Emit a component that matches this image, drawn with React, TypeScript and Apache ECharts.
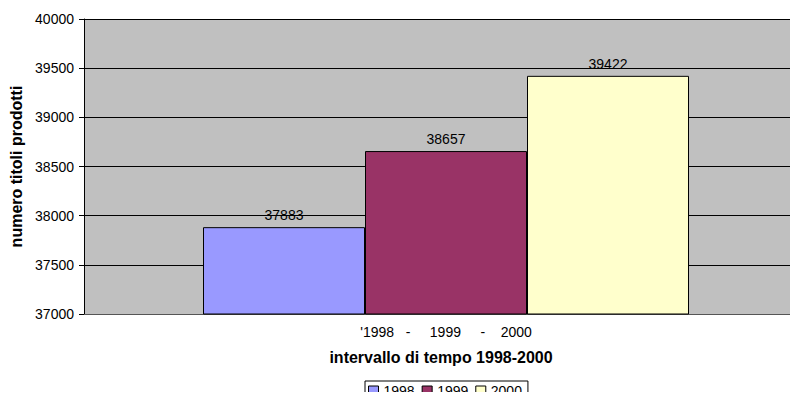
import React, { useEffect, useRef } from "react";
import * as echarts from "echarts";

const S = "\u00a0";
const categories = [
  "'1998" + S.repeat(3) + "-" + S.repeat(5) + "1999" + S.repeat(5) + "-" + S.repeat(4) + "2000",
];
const seriesNames = ["1998", "1999", "2000"];
const values1998 = [37883];
const values1999 = [38657];
const values2000 = [39422];
const colors = ["#9999FF", "#993366", "#FFFFCC"];
const yTicks = { min: 37000, max: 40000, interval: 500 };

const FONT = "'Liberation Sans', Arial, sans-serif";

export default function App() {
  const ref = useRef<HTMLDivElement>(null);
  useEffect(() => {
    if (!ref.current) return;
    const chart = echarts.init(ref.current, undefined, { renderer: "svg" });
    const dataSets = [values1998, values1999, values2000];
    const realSeries = seriesNames.map((name, i) => ({
      name,
      type: "bar",
      data: dataSets[i],
      barGap: "0%",
      barWidth: 162,
      itemStyle: { color: colors[i], borderColor: "#000", borderWidth: 1 },
      label: {
        show: true,
        position: "top",
        distance: 5,
        color: "#000",
        fontSize: 14,
        fontFamily: FONT,
      },
    }));
    chart.setOption({
      animation: false,
      textStyle: { fontFamily: FONT },
      grid: {
        left: 83,
        top: 19,
        right: 0,
        bottom: 86,
        show: true,
        backgroundColor: "#C0C0C0",
        borderWidth: 0,
      },
      legend: {
        top: 381,
        left: 365,
        data: seriesNames,
        icon: "rect",
        itemWidth: 10,
        itemHeight: 10,
        itemGap: 7,
        padding: [3, 6, 3, 3],
        borderColor: "#000",
        borderWidth: 1,
        itemStyle: { borderColor: "#000", borderWidth: 1 },
        textStyle: { fontSize: 14, color: "#000", fontFamily: FONT },
      },
      xAxis: {
        type: "category",
        data: categories,
        name: "intervallo di tempo 1998-2000",
        nameLocation: "middle",
        nameGap: 35,
        nameTextStyle: { fontWeight: "bold", fontSize: 16, color: "#000", fontFamily: FONT },
        axisLine: { lineStyle: { color: "#555", width: 1 } },
        axisTick: { show: false },
        axisLabel: { color: "#000", fontSize: 14, margin: 11, padding: [0, 0, 0, 10], fontFamily: FONT },
      },
      yAxis: {
        type: "value",
        min: yTicks.min,
        max: yTicks.max,
        interval: yTicks.interval,
        name: "numero titoli prodotti",
        nameLocation: "middle",
        nameGap: 60,
        nameRotate: 90,
        nameTextStyle: { fontWeight: "bold", fontSize: 16, color: "#000", fontFamily: FONT },
        axisLine: { show: true, lineStyle: { color: "#000", width: 1 } },
        axisTick: { show: true, length: 5, lineStyle: { color: "#000" } },
        axisLabel: {
          color: "#000",
          fontSize: 14,
          margin: 10,
          fontFamily: FONT,
          formatter: (v: number) => String(v),
        },
        splitLine: { show: true, lineStyle: { color: "#000", width: 1 } },
      },
      series: [
        {
          name: "spacer",
          type: "bar",
          data: ["-"],
          barGap: "0%",
          barWidth: 10,
          itemStyle: { color: "transparent" },
          silent: true,
        },
        ...realSeries,
      ],
    });
    return () => chart.dispose();
  }, []);
  return <div ref={ref} style={{ width: 798, height: 400, margin: -8 }} />;
}
